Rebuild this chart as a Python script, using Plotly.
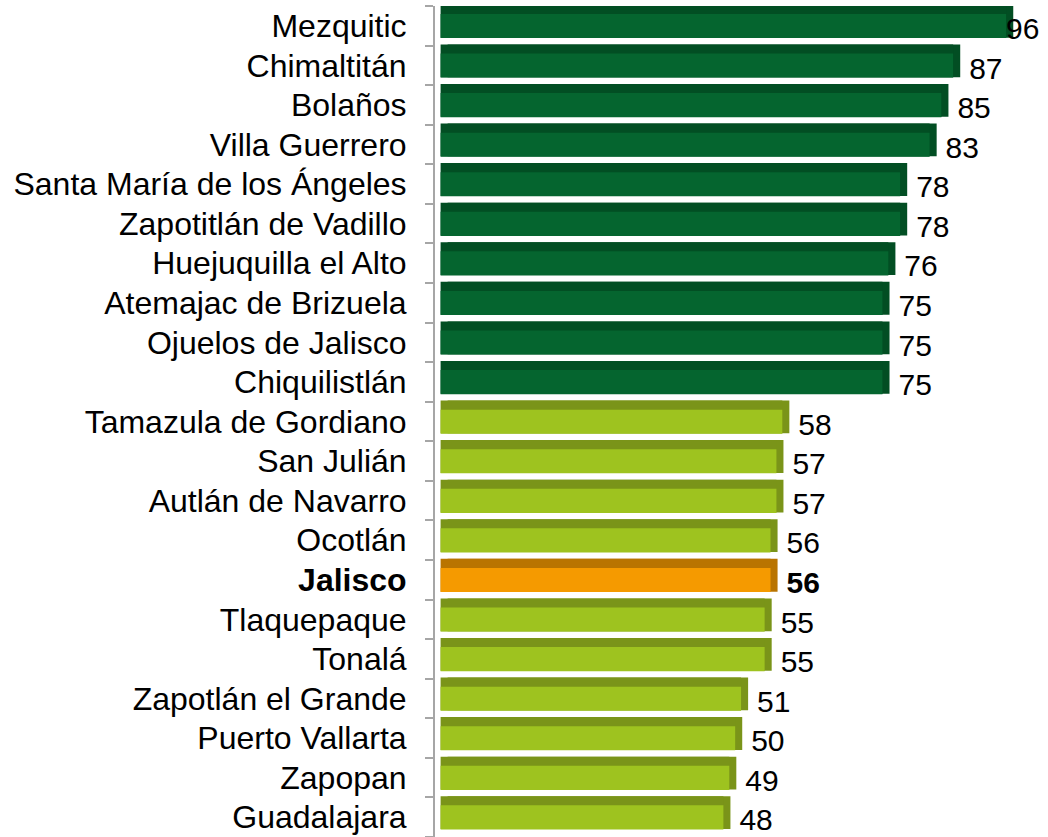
import plotly.graph_objects as go

# municipios y valores (de arriba hacia abajo)
municipios = ['Mezquitic', 'Chimaltitán', 'Bolaños', 'Villa Guerrero',
              'Santa María de los Ángeles', 'Zapotitlán de Vadillo',
              'Huejuquilla el Alto', 'Atemajac de Brizuela', 'Ojuelos de Jalisco',
              'Chiquilistlán', 'Tamazula de Gordiano', 'San Julián',
              'Autlán de Navarro', 'Ocotlán', 'Jalisco', 'Tlaquepaque', 'Tonalá',
              'Zapotlán el Grande', 'Puerto Vallarta', 'Zapopan', 'Guadalajara']
valores = [96, 87, 85, 83, 78, 78, 76, 75, 75, 75, 58, 57, 57, 56, 56, 55, 55,
           51, 50, 49, 48]
grupo = ['alto'] * 10 + ['medio'] * 4 + ['estado'] + ['medio'] * 6

colores_cara = {'alto': '#05652f', 'medio': '#9ec31f', 'estado': '#f59a00'}
colores_borde = {'alto': '#024e23', 'medio': '#7a9419', 'estado': '#b97400'}

cara = [colores_cara[g] for g in grupo]
borde = [colores_borde[g] for g in grupo]

etiquetas = ['<b>%s</b>' % m if g == 'estado' else m for m, g in zip(municipios, grupo)]
textos = ['<b>%d</b>' % v if g == 'estado' else str(v) for v, g in zip(valores, grupo)]
# la barra más larga no deja sitio: su etiqueta va como anotación
posiciones = ['none'] + ['outside'] * (len(valores) - 1)

fuente = 'Liberation Sans, Arial'

fig = go.Figure()

# lado derecho oscuro (efecto 3D): eje base desplazado
fig.add_trace(go.Bar(y=municipios, x=valores, orientation='h', xaxis='x',
                     marker=dict(color=borde, line=dict(width=0)),
                     width=0.83, offset=-0.53, hoverinfo='skip'))
# franja superior oscura
fig.add_trace(go.Bar(y=municipios, x=valores, orientation='h', xaxis='x2',
                     marker=dict(color=borde, line=dict(width=0)),
                     width=0.83, offset=-0.53, hoverinfo='skip'))
# cara frontal
fig.add_trace(go.Bar(y=municipios, x=valores, orientation='h', xaxis='x2',
                     marker=dict(color=cara, line=dict(width=0)),
                     width=0.61, offset=-0.30))
# etiquetas de valor (barras transparentes algo desplazadas)
fig.add_trace(go.Bar(y=municipios, x=valores, orientation='h', xaxis='x3',
                     marker=dict(color='rgba(0,0,0,0)', line=dict(width=0)),
                     width=0.84, offset=-0.35, hoverinfo='skip',
                     text=textos, textposition=posiciones, cliponaxis=False,
                     textfont=dict(family=fuente, size=30, color='black')))

fig.add_annotation(x=valores[0], y=municipios[0], xref='x2', yref='y',
                   text=textos[0], showarrow=False, xanchor='left', yshift=-3, xshift=-2,
                   font=dict(family=fuente, size=30, color='black'))

fig.update_layout(
    width=1048, height=837,
    margin=dict(l=435, r=10, t=6, b=0, autoexpand=False),
    barmode='overlay',
    showlegend=False,
    plot_bgcolor='white',
    paper_bgcolor='white',
    font=dict(family=fuente, size=32, color='black'),
    xaxis=dict(range=[-2.14, 100.2], visible=False, fixedrange=True),
    xaxis2=dict(range=[-0.95, 101.4], overlaying='x', visible=False, fixedrange=True),
    xaxis3=dict(range=[-3.16, 99.19], overlaying='x', visible=False, fixedrange=True),
    yaxis=dict(range=[len(municipios) - 0.5, -0.5], tickmode='array', tickvals=municipios,
               ticktext=etiquetas, showline=True, linecolor='#a6a6a6', linewidth=2,
               ticks='outside', tickson='boundaries', ticklen=8, tickcolor='#a6a6a6',
               tickwidth=2, showgrid=False, ticklabelstandoff=20, fixedrange=True,
               automargin=False),
)

# sin el margen por defecto del navegador
fig.write_html("out.html", config={'displayModeBar': False},
               post_script="document.body.style.margin='0';")
